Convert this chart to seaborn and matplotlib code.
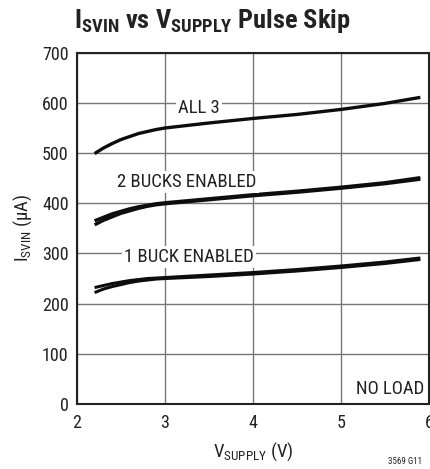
import matplotlib
matplotlib.use("Agg")
import matplotlib.pyplot as plt
import seaborn as sns
import pandas as pd

vsupply = [2.2, 2.3, 2.4, 2.5, 2.6, 2.7, 2.8, 2.9, 3.0, 3.5, 4.0, 4.5, 5.0, 5.5, 5.9]
all3 = [499, 510, 519, 527, 533, 539, 543, 547, 550, 560, 569, 577, 587, 599, 611]
bucks2_a = [357, 366, 373, 380, 385, 390, 394, 397, 399, 407, 415, 422, 430, 439, 448]
bucks2_b = [365, 372, 379, 384, 389, 393, 396, 399, 401, 409, 417, 424, 432, 441, 451]
buck1_a = [222, 229, 234, 238, 242, 245, 247, 249, 250, 254, 259, 265, 272, 280, 288]
buck1_b = [232, 236, 240, 243, 246, 248, 250, 251, 252, 257, 262, 268, 275, 283, 291]

x_ticks = [2, 3, 4, 5, 6]
y_ticks = [0, 100, 200, 300, 400, 500, 600, 700]

sns.set_style("white")
fam = "Roboto Condensed"
plt.rcParams["font.family"] = [fam, "DejaVu Sans"]
plt.rcParams["mathtext.fontset"] = "custom"
plt.rcParams["mathtext.rm"] = fam
plt.rcParams["mathtext.it"] = fam
plt.rcParams["mathtext.bf"] = fam + ":bold"

fig = plt.figure(figsize=(4.30, 4.69), dpi=100)
ax = fig.add_axes([0.179, 0.1386, 0.819, 0.749])

series = [("ALL 3", all3, 2.4), ("2a", bucks2_a, 2.4), ("2b", bucks2_b, 2.4),
          ("1a", buck1_a, 2.2), ("1b", buck1_b, 2.2)]
for name, vals, lw in series:
    df = pd.DataFrame({"v": vsupply, "i": vals})
    sns.lineplot(data=df, x="v", y="i", ax=ax, color="#0d0d0d", linewidth=lw,
                 zorder=3, solid_joinstyle="round", solid_capstyle="butt")

ax.set_xlim(2, 6)
ax.set_ylim(0, 700)
ax.set_xticks(x_ticks)
ax.set_yticks(y_ticks)
ax.set_xticklabels([str(t) for t in x_ticks])
ax.set_yticklabels([str(t) for t in y_ticks])
ax.grid(True, color="#777777", linewidth=1.0)
ax.set_axisbelow(True)
for s in ax.spines.values():
    s.set_color("#222222")
    s.set_linewidth(1.5)
ax.tick_params(axis="both", labelsize=13, colors="#222222", length=0, pad=6)
ax.tick_params(axis="x", pad=7)

ax.set_xlabel(r"V$_{\mathregular{SUPPLY}}$ (V)", fontsize=13.5, color="#222222", labelpad=6)
ax.set_ylabel(r"I$_{\mathregular{SVIN}}$ (µA)", fontsize=13.5, color="#222222", labelpad=6)

box = dict(facecolor="white", edgecolor="none", pad=1.5)
ax.text(3.39, 590, "ALL 3", fontsize=13.5, ha="center", va="center", color="#222222", bbox=box, zorder=4)
ax.text(3.25, 443, "2 BUCKS ENABLED", fontsize=13.5, ha="center", va="center", color="#222222", bbox=box, zorder=4)
ax.text(3.27, 293, "1 BUCK ENABLED", fontsize=13.5, ha="center", va="center", color="#222222", bbox=box, zorder=4)
ax.text(5.95, 30, "NO LOAD", fontsize=13.5, ha="right", va="center", color="#222222", zorder=4)

fig.text(0.495, 0.955, r"I$_{\mathregular{SVIN}}$ vs V$_{\mathregular{SUPPLY}}$ Pulse Skip",
         fontsize=19, fontweight="bold", ha="center", va="center", color="#222222")
fig.text(0.903, 0.006, "3569 G11", fontsize=6.5, ha="left", va="bottom", color="#222222")

fig.savefig("out.png", dpi=100)
